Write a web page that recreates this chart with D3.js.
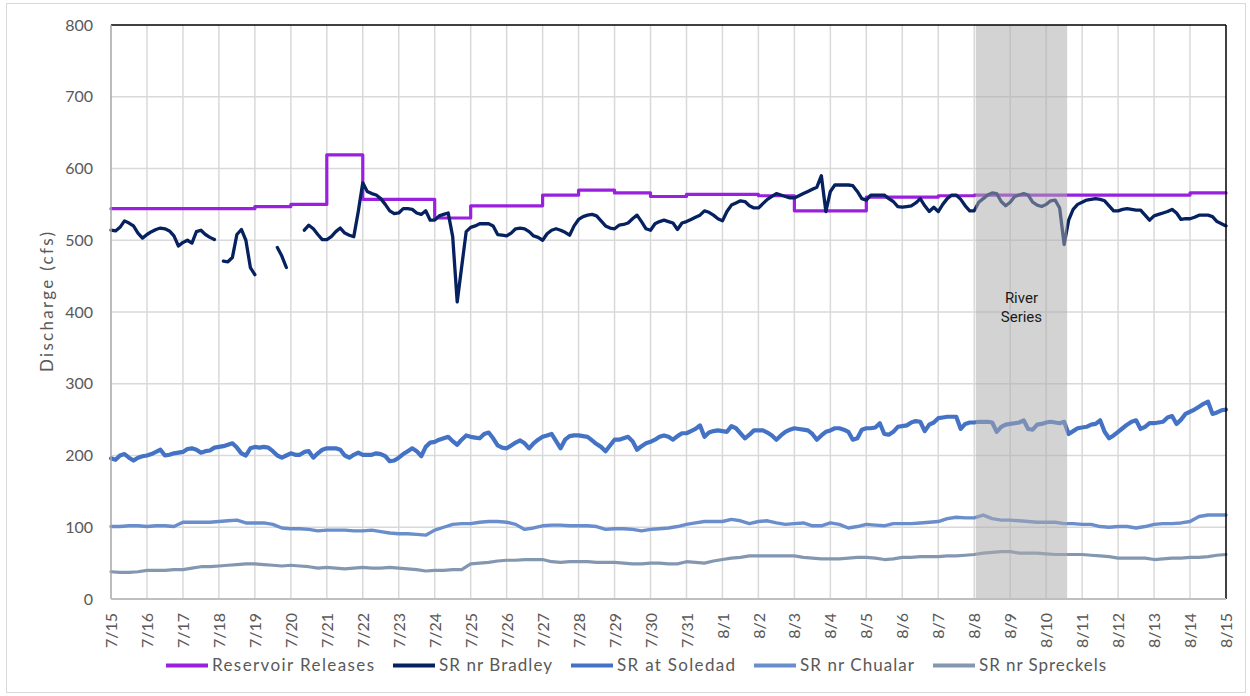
<!DOCTYPE html>
<html>
<head>
<meta charset="utf-8">
<script src="https://cdn.jsdelivr.net/npm/d3@7"></script>
<style>
  html, body { margin: 0; padding: 0; background: #fff; }
  svg { display: block; font-family: Lato, Carlito, "Liberation Sans", sans-serif; }
</style>
</head>
<body>
<svg id="chart" width="1250" height="696"></svg>
<script>
// ---- Period and axis labels ----
const periodStart = "2023-07-15T00:00";
const periodEnd = "2023-08-15T00:00";
const dayLabels = ["7/15","7/16","7/17","7/18","7/19","7/20","7/21","7/22","7/23","7/24","7/25","7/26",
  "7/27","7/28","7/29","7/30","7/31","8/1","8/2","8/3","8/4","8/5","8/6","8/7","8/8","8/9","8/10",
  "8/11","8/12","8/13","8/14","8/15"];
const yTicks = [0, 100, 200, 300, 400, 500, 600, 700, 800];
const yLabel = "Discharge (cfs)";

// ---- Reservoir release schedule (cfs); each rate holds until the next change ----
const releaseDates = ["7/15","7/19","7/20","7/21","7/22","7/24","7/25","7/27","7/28","7/29","7/30",
  "7/31","8/2","8/3","8/5","8/7","8/8","8/14","8/15"];
const releaseValues = [544, 547, 550, 619, 557, 531, 548, 563, 570, 566, 561,
  564, 562, 541, 560, 562, 563, 566, 566];

// ---- Gauge records (cfs), starting 7/15 00:00; null = missing record ----
const bradleyStepHours = 3;
const bradley = [
  514, 513, 518, 527, 524, 520, 510, 503,
  508, 512, 515, 517, 516, 513, 506, 492,
  497, 500, 496, 512, 514, 508, 504, 501,
  null, 471, 470, 476, 508, 515, 500, 462,
  452, null, null, null, null, 490, 478, 462,
  null, null, null, 514, 521, 516, 508, 501,
  501, 505, 512, 517, 510, 507, 505, 540,
  580, 568, 565, 563, 558, 550, 541, 537,
  538, 544, 544, 543, 538, 536, 541, 528,
  528, 534, 536, 538, 505, 414, 463, 512,
  518, 520, 523, 523, 523, 520, 508, 507,
  506, 510, 516, 517, 516, 512, 506, 504,
  500, 509, 514, 516, 514, 511, 507, 520,
  529, 533, 535, 536, 534, 527, 520, 517,
  516, 521, 522, 524, 530, 535, 526, 516,
  514, 523, 526, 528, 526, 524, 515, 524,
  526, 529, 532, 535, 541, 539, 535, 530,
  527, 540, 549, 552, 555, 554, 548, 545,
  545, 551, 557, 561, 565, 563, 561, 559,
  559, 562, 565, 568, 571, 574, 590, 540,
  568, 577, 577, 577, 577, 576, 568, 558,
  556, 563, 563, 563, 563, 558, 554, 547,
  546, 547, 548, 552, 558, 548, 540, 546,
  540, 550, 558, 563, 563, 557, 548, 541,
  541, 553, 558, 563, 566, 565, 554, 548,
  553, 561, 563, 565, 563, 553, 549, 547,
  550, 555, 556, 545, 494, 528, 543, 550,
  553, 556, 557, 558, 557, 555, 548, 541,
  541, 543, 544, 543, 542, 542, 535, 528,
  534, 536, 538, 540, 543, 538, 529, 530,
  530, 532, 535, 535, 535, 533, 526, 523,
  520
];

const soledadStepHours = 3;
const soledad = [
  196, 194, 200, 202, 197, 193, 197, 199,
  200, 202, 205, 208, 200, 201, 203, 204,
  205, 209, 210, 208, 204, 206, 207, 211,
  212, 213, 215, 217, 211, 203, 200, 210,
  212, 211, 212, 211, 206, 200, 197, 200,
  203, 201, 201, 205, 206, 197, 203, 208,
  210, 210, 210, 208, 200, 197, 201, 204,
  201, 201, 201, 203, 202, 199, 192, 193,
  197, 202, 206, 210, 206, 199, 212, 218,
  219, 222, 224, 226, 220, 215, 222, 228,
  226, 225, 224, 230, 232, 224, 214, 211,
  210, 214, 218, 221, 217, 210, 217, 222,
  226, 228, 230, 220, 210, 222, 227, 228,
  228, 227, 226, 221, 216, 212, 206, 214,
  222, 222, 224, 226, 220, 208, 213, 217,
  219, 222, 226, 228, 226, 222, 227, 231,
  231, 234, 237, 242, 226, 232, 234, 235,
  234, 233, 241, 238, 231, 224, 229, 235,
  235, 235, 232, 228, 222, 228, 233, 236,
  238, 237, 236, 235, 230, 222, 228, 233,
  235, 238, 238, 236, 233, 222, 224, 236,
  238, 238, 239, 245, 230, 229, 233, 240,
  241, 242, 246, 248, 247, 234, 243, 246,
  252, 253, 254, 254, 254, 237, 244, 246,
  246, 247, 247, 247, 246, 233, 240, 243,
  244, 245, 246, 249, 237, 236, 243, 244,
  246, 247, 246, 245, 247, 230, 234, 238,
  239, 240, 243, 244, 249, 233, 224, 228,
  233, 238, 243, 247, 249, 237, 240, 245,
  245, 246, 247, 253, 255, 244, 250, 258,
  261, 264, 268, 272, 275, 258, 260, 263,
  264
];

const chualarStepHours = 6;
const chualar = [
  101, 101, 102, 102,   101, 102, 102, 101,   107, 107, 107, 107,   108, 109, 110, 106,
  106, 106, 104, 99,    98, 98, 97, 95,       96, 96, 96, 95,       95, 96, 94, 92,
  91, 91, 90, 89,       96, 100, 104, 105,    105, 107, 108, 108,   107, 104, 97, 99,
  102, 103, 103, 102,   102, 102, 101, 97,    98, 98, 97, 95,       97, 98, 99, 101,
  104, 106, 108, 108,   108, 111, 109, 105,   108, 109, 106, 104,   105, 106, 102, 102,
  106, 104, 99, 101,    104, 103, 102, 105,   105, 105, 106, 107,   108, 112, 114, 113,
  113, 117, 112, 110,   110, 109, 108, 107,   107, 107, 105, 105,   104, 104, 101, 100,
  101, 101, 99, 101,    104, 105, 105, 106,   108, 115, 117, 117,
  117
];

const spreckelsStepHours = 6;
const spreckels = [
  38, 37, 37, 38,   40, 40, 40, 41,   41, 43, 45, 45,   46, 47, 48, 49,
  49, 48, 47, 46,   47, 46, 45, 43,   44, 43, 42, 43,   44, 43, 43, 44,
  43, 42, 41, 39,   40, 40, 41, 41,   49, 50, 51, 53,   54, 54, 55, 55,
  55, 52, 51, 52,   52, 52, 51, 51,   51, 50, 49, 49,   50, 50, 49, 49,
  52, 51, 50, 53,   55, 57, 58, 60,   60, 60, 60, 60,   60, 58, 57, 56,
  56, 56, 57, 58,   58, 57, 55, 56,   58, 58, 59, 59,   59, 60, 60, 61,
  62, 64, 65, 66,   66, 64, 64, 64,   63, 62, 62, 62,   62, 61, 60, 59,
  57, 57, 57, 57,   55, 56, 57, 57,   58, 58, 59, 61,
  62
];

const seriesNames = ["Reservoir Releases", "SR nr Bradley", "SR at Soledad", "SR nr Chualar", "SR nr Spreckels"];
const seriesColors = ["#9a20e0", "#06215f", "#4472c4", "#6a8dcc", "#8497b0"];
const seriesWidths = [3.2, 3.3, 4.2, 3.4, 3.2];

// Shaded "River Series" window
const riverSeriesStart = "2023-08-08T01:00";
const riverSeriesEnd = "2023-08-10T14:00";
const riverSeriesLabel = ["River", "Series"];

// ---- Layout ----
const plot = { left: 111, right: 1226, top: 25, bottom: 599 };
const textColor = "#595959";
const legendTextWidths = [162, 113, 118, 114, 127];

const svg = d3.select("#chart");
const parseTime = d3.utcParse("%Y-%m-%dT%H:%M");
const t0 = parseTime(periodStart);
const t1 = parseTime(periodEnd);
const HOUR = 3600 * 1000;
const dayDate = s => { const [m, d] = s.split("/").map(Number); return new Date(Date.UTC(t0.getUTCFullYear(), m - 1, d)); };

const x = d3.scaleUtc().domain([t0, t1]).range([plot.left, plot.right]);
const y = d3.scaleLinear().domain([0, 800]).range([plot.bottom, plot.top]);

const toPoints = (vals, stepHours) => vals.map((v, i) => ({ t: new Date(t0.getTime() + i * stepHours * HOUR), v }));

// outer chart frame
svg.append("rect")
  .attr("x", 6.5).attr("y", 3.5).attr("width", 1239).attr("height", 689)
  .attr("fill", "none").attr("stroke", "#d9d9d9").attr("stroke-width", 1);

// gridlines
const grid = svg.append("g").attr("stroke", "#d9d9d9").attr("stroke-width", 1.5);
grid.selectAll("line.h").data(yTicks.filter(v => v > 0 && v < 800)).join("line")
  .attr("x1", plot.left).attr("x2", plot.right)
  .attr("y1", d => y(d)).attr("y2", d => y(d));
grid.selectAll("line.v").data(dayLabels.slice(1, -1)).join("line")
  .attr("x1", d => x(dayDate(d))).attr("x2", d => x(dayDate(d)))
  .attr("y1", plot.top).attr("y2", plot.bottom);

// series lines
const line = d3.line()
  .defined(d => d.v != null)
  .x(d => x(d.t)).y(d => y(d.v));

const releasePts = releaseDates.map((d, i) => ({ t: dayDate(d), v: releaseValues[i] }));
const seriesData = [
  { pts: releasePts, curve: d3.curveStepAfter },
  { pts: toPoints(bradley, bradleyStepHours), curve: d3.curveLinear },
  { pts: toPoints(soledad, soledadStepHours), curve: d3.curveLinear },
  { pts: toPoints(chualar, chualarStepHours), curve: d3.curveLinear },
  { pts: toPoints(spreckels, spreckelsStepHours), curve: d3.curveLinear }
];

const linesG = svg.append("g");
seriesData.forEach((s, i) => {
  linesG.append("path")
    .attr("d", line.curve(s.curve)(s.pts))
    .attr("fill", "none")
    .attr("stroke", seriesColors[i])
    .attr("stroke-width", seriesWidths[i])
    .attr("stroke-linejoin", "round")
    .attr("stroke-linecap", "round");
});

// River Series shading, drawn over the data
const xs0 = x(parseTime(riverSeriesStart));
const xs1 = x(parseTime(riverSeriesEnd));
svg.append("rect")
  .attr("x", xs0).attr("y", plot.top)
  .attr("width", xs1 - xs0).attr("height", plot.bottom - plot.top)
  .attr("fill", "#adabad").attr("fill-opacity", 0.52);
svg.append("text")
  .attr("x", (xs0 + xs1) / 2).attr("y", 303)
  .attr("text-anchor", "middle")
  .attr("font-family", "Roboto, 'DejaVu Sans', sans-serif")
  .attr("font-size", 15).attr("fill", "#1a1a1a")
  .selectAll("tspan").data(riverSeriesLabel).join("tspan")
  .attr("x", (xs0 + xs1) / 2).attr("dy", (d, i) => i === 0 ? 0 : 18.5)
  .text(d => d);

// plot border: black top and right, grey axes on left and bottom
svg.append("line").attr("x1", plot.left).attr("x2", plot.right).attr("y1", plot.top).attr("y2", plot.top)
  .attr("stroke", "#000").attr("stroke-width", 1.5);
svg.append("line").attr("x1", plot.right).attr("x2", plot.right).attr("y1", plot.top).attr("y2", plot.bottom)
  .attr("stroke", "#000").attr("stroke-width", 1.5);
svg.append("line").attr("x1", plot.left).attr("x2", plot.left).attr("y1", plot.top).attr("y2", plot.bottom)
  .attr("stroke", "#a6a6a6").attr("stroke-width", 1.5);
svg.append("line").attr("x1", plot.left).attr("x2", plot.right).attr("y1", plot.bottom).attr("y2", plot.bottom)
  .attr("stroke", "#bfbfbf").attr("stroke-width", 2);

// y axis labels
const yAxis = d3.axisLeft(y).tickValues(yTicks).tickSize(0).tickPadding(0);
const yg = svg.append("g").attr("transform", `translate(${plot.left - 18},0)`).call(yAxis);
yg.select(".domain").remove();
yg.selectAll("text").attr("font-size", 16).attr("fill", textColor)
  .attr("font-family", "Lato, Carlito, sans-serif");

// x axis labels, rotated
const xAxis = d3.axisBottom(x).tickValues(dayLabels.map(dayDate)).tickSize(0)
  .tickFormat((d, i) => dayLabels[i]);
const xg = svg.append("g").attr("transform", `translate(0,${plot.bottom})`).call(xAxis);
xg.select(".domain").remove();
xg.selectAll("text")
  .attr("font-size", 16).attr("fill", textColor)
  .attr("font-family", "Lato, Carlito, sans-serif")
  .attr("text-anchor", "end")
  .attr("transform", "translate(0,14) rotate(-90)")
  .attr("x", 0).attr("y", 0).attr("dy", "0.35em");

// y axis title
svg.append("text")
  .attr("transform", `translate(53,302) rotate(-90)`)
  .attr("text-anchor", "middle")
  .attr("font-size", 17).attr("fill", textColor)
  .attr("textLength", 140).attr("lengthAdjust", "spacing")
  .text(yLabel);

// legend
const legendY = 665.5;
let lx = 166;
const legend = svg.append("g");
seriesNames.forEach((name, i) => {
  legend.append("line")
    .attr("x1", lx).attr("x2", lx + 42).attr("y1", legendY).attr("y2", legendY)
    .attr("stroke", seriesColors[i]).attr("stroke-width", 4);
  legend.append("text")
    .attr("x", lx + 46).attr("y", legendY).attr("dy", "0.35em")
    .attr("font-size", 17).attr("fill", textColor)
    .attr("textLength", legendTextWidths[i]).attr("lengthAdjust", "spacing")
    .text(name);
  lx += 46 + legendTextWidths[i] + 19;
});
</script>
</body>
</html>
